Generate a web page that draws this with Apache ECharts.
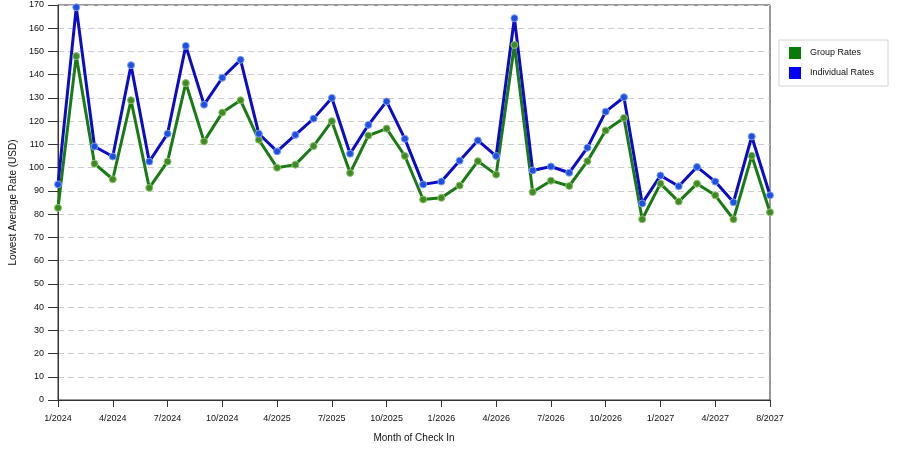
<!DOCTYPE html>
<html>
<head>
<meta charset="utf-8">
<script src="https://cdn.jsdelivr.net/npm/echarts@6/dist/echarts.min.js"></script>
<style>
  html, body { margin: 0; padding: 0; background: #fff; }
  #main { width: 900px; height: 450px; }
</style>
</head>
<body>
<div id="main"></div>
<script>
// month of check in (some months missing in the source)
var months = [
    '1/2024', '2/2024', '3/2024', '4/2024', '5/2024', '6/2024', '7/2024', '8/2024', '9/2024', '10/2024',
    '11/2024', '12/2024', '4/2025', '5/2025', '6/2025', '7/2025', '8/2025', '9/2025', '10/2025', '11/2025',
    '12/2025', '1/2026', '2/2026', '3/2026', '4/2026', '5/2026', '6/2026', '7/2026', '8/2026', '9/2026',
    '10/2026', '11/2026', '12/2026', '1/2027', '2/2027', '3/2027', '4/2027', '5/2027', '7/2027', '8/2027'
];

var groupRates = [
    82.7, 148, 101.7, 95, 129, 91.3, 102.6, 136.4, 111.3, 123.7,
    129, 112, 100, 101.3, 109.3, 120, 97.7, 113.8, 116.8, 105,
    86.3, 87, 92.3, 102.8, 97, 152.8, 89.5, 94.4, 92.1, 102.8,
    116, 121.4, 77.8, 93.1, 85.4, 93.1, 88.1, 77.8, 105.1, 80.8
];

var individualRates = [
    92.8, 169, 109.1, 104.8, 144.1, 102.6, 114.6, 152.4, 127.1, 138.7,
    146.4, 114.6, 107, 114.1, 121.1, 130, 106, 118.4, 128.5, 112.4,
    92.8, 94, 103, 111.7, 105, 164.3, 98.8, 100.5, 97.8, 108.6,
    124.1, 130.3, 84.6, 96.6, 92, 100.3, 94, 85.1, 113.4, 88.1
];

var chart = echarts.init(document.getElementById('main'));
var fnt = 'Liberation Sans';

chart.setOption({
    backgroundColor: '#fff',
    animation: false,
    textStyle: { fontFamily: fnt },
    grid: {
        left: 58, right: 130, top: 5, bottom: 50,
        show: true, borderColor: '#333', borderWidth: 1
    },
    legend: {
        orient: 'vertical',
        left: 779, top: 40,
        padding: [7, 14, 7, 10],
        itemGap: 8,
        borderColor: '#d4d4d4', borderWidth: 1,
        itemWidth: 12, itemHeight: 12,
        icon: 'rect',
        textStyle: { fontSize: 9, color: '#111', fontFamily: fnt, padding: [0, 0, 0, 4] },
        data: [
            { name: 'Group Rates', itemStyle: { color: '#0a7a0a', borderWidth: 0 } },
            { name: 'Individual Rates', itemStyle: { color: '#0000ff', borderWidth: 0 } }
        ]
    },
    xAxis: {
        type: 'category',
        data: months,
        boundaryGap: false,
        name: 'Month of Check In',
        nameLocation: 'middle',
        nameGap: 33,
        nameTextStyle: { fontSize: 10, color: '#111' },
        axisLine: { lineStyle: { color: '#333' } },
        axisTick: { interval: 2, length: 7, lineStyle: { color: '#333' } },
        axisLabel: { interval: 2, fontSize: 9, color: '#111', margin: 14 },
        splitLine: { show: false }
    },
    yAxis: {
        type: 'value',
        min: 0, max: 170, interval: 10,
        name: 'Lowest Average Rate (USD)',
        nameLocation: 'middle',
        nameGap: 28,
        nameTextStyle: { fontSize: 10, color: '#111' },
        axisLine: { show: true, lineStyle: { color: '#333' } },
        axisTick: { show: true, length: 10, lineStyle: { color: '#333' } },
        axisLabel: { fontSize: 9, color: '#111', margin: 14 },
        splitLine: { lineStyle: { color: '#ccc', type: [6, 4] } }
    },
    series: [
        {
            name: 'Group Rates',
            type: 'line',
            data: groupRates,
            symbol: 'circle',
            symbolSize: 7,
            lineStyle: { color: '#1a7a14', width: 3 },
            itemStyle: { color: '#3f8a25', borderColor: '#8cc46a', borderWidth: 1 }
        },
        {
            name: 'Individual Rates',
            type: 'line',
            data: individualRates,
            symbol: 'circle',
            symbolSize: 7,
            lineStyle: { color: '#0c0cc8', width: 3 },
            itemStyle: { color: '#1f4fe0', borderColor: '#7fa0f5', borderWidth: 1 }
        }
    ]
});
</script>
</body>
</html>
